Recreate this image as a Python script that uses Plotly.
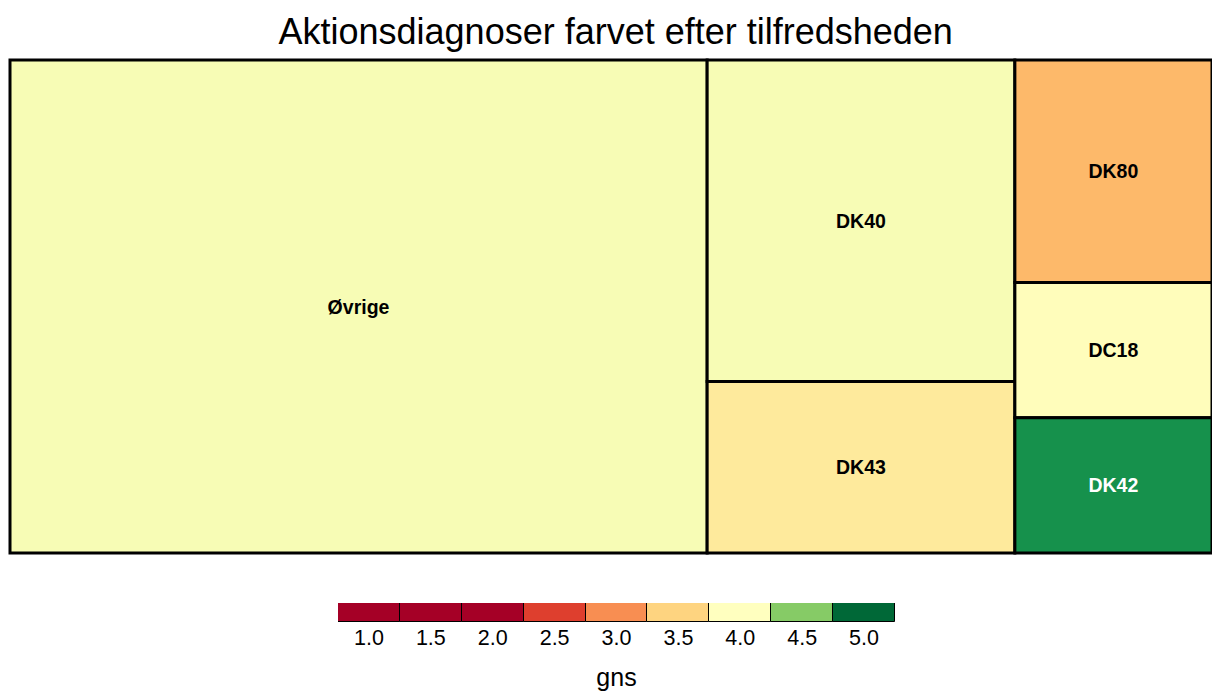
import plotly.graph_objects as go

# ---- data ----
labels = ["Øvrige", "DK40", "DK43", "DK80", "DC18", "DK42"]
sizes = [580, 167, 89, 74, 45, 45]
gns = [4.04, 4.04, 3.73, 3.29, 3.97, 4.83]
legend_vals = [1.0, 1.5, 2.0, 2.5, 3.0, 3.5, 4.0, 4.5, 5.0]
legend_text = ["1.0", "1.5", "2.0", "2.5", "3.0", "3.5", "4.0", "4.5", "5.0"]
title_text = "Aktionsdiagnoser farvet efter tilfredsheden"
legend_title = "gns"

# ---- palette (RdYlGn) ----
RDYLGN = ["#a50026", "#d73027", "#f46d43", "#fdae61", "#fee08b", "#ffffbf",
          "#d9ef8b", "#a6d96a", "#66bd63", "#1a9850", "#006837"]
MAP_LO, MAP_MID, MAP_HI = 2.0, 4.0, 5.0


def hex2rgb(h):
    h = h.lstrip("#")
    return [int(h[i:i + 2], 16) for i in (0, 2, 4)]


def value_color(v):
    if v <= MAP_MID:
        p = 0.5 * (v - MAP_LO) / (MAP_MID - MAP_LO)
    else:
        p = 0.5 + 0.5 * (v - MAP_MID) / (MAP_HI - MAP_MID)
    p = min(max(p, 0.0), 1.0)
    pos = p * (len(RDYLGN) - 1)
    i = min(int(pos), len(RDYLGN) - 2)
    f = pos - i
    a, b = hex2rgb(RDYLGN[i]), hex2rgb(RDYLGN[i + 1])
    c = [round(a[k] + (b[k] - a[k]) * f) for k in range(3)]
    return "rgb({},{},{})".format(*c)


cell_colors = [value_color(v) for v in gns]
text_colors = ["white" if v >= 4.6 else "black" for v in gns]
legend_colors = [value_color(v) for v in legend_vals]

W, H = 1212, 691

fig = go.Figure()
fig.add_trace(go.Treemap(
    labels=labels,
    parents=[""] * len(labels),
    values=sizes,
    sort=True,
    texttemplate="<b>%{label}</b>",
    textposition="middle center",
    textfont=dict(family="Liberation Sans, Arial, sans-serif", size=19.5, color=text_colors),
    marker=dict(colors=cell_colors, line=dict(color="black", width=3), pad=dict(t=0, l=0, r=0, b=0)),
    tiling=dict(packing="squarify", squarifyratio=1, pad=0),
    pathbar=dict(visible=False),
    hoverinfo="skip",
    domain=dict(x=[10 / W, 1.0], y=[(H - 553) / H, (H - 60) / H]),
))

fig.add_trace(go.Bar(
    x=list(range(len(legend_vals))),
    y=[1] * len(legend_vals),
    width=1,
    marker=dict(color=legend_colors, line=dict(color="black", width=1)),
    hoverinfo="skip",
    showlegend=False,
))

fig.update_layout(
    width=W, height=H,
    margin=dict(l=0, r=0, t=0, b=0),
    paper_bgcolor="white",
    plot_bgcolor="white",
    font=dict(family="Liberation Sans, Arial, sans-serif", color="black"),
    title=dict(text=title_text, x=0.508, xanchor="center", y=1 - 31 / H, yanchor="middle",
               font=dict(size=36, color="black")),
    xaxis=dict(domain=[338 / W, 895 / W], range=[-0.5, len(legend_vals) - 0.5],
               tickvals=list(range(len(legend_vals))), ticktext=legend_text,
               tickfont=dict(size=21.5, color="black"), ticks="", ticklen=0,
               showgrid=False, zeroline=False, showline=False, fixedrange=True,
               title=dict(text=legend_title, font=dict(size=25, color="black"), standoff=21)),
    yaxis=dict(domain=[(H - 622) / H, (H - 603) / H], range=[0, 1], visible=False, fixedrange=True),
    bargap=0,
)

fig.write_html("out.html", config={"displayModeBar": False},
               post_script="document.body.style.margin='0';")
